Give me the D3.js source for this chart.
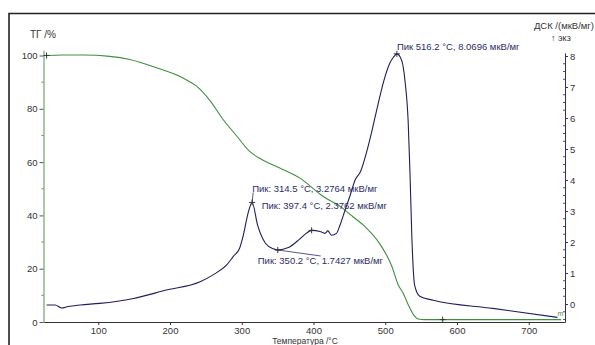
<!DOCTYPE html>
<html>
<head>
<meta charset="utf-8">
<script src="https://cdn.jsdelivr.net/npm/d3@7"></script>
<style>
  body { margin: 0; background: #fff; }
  svg { display: block; font-family: "Liberation Sans", Arial, sans-serif; }
</style>
</head>
<body>
<div id="chart"></div>
<script>
// TG curve (temperature, %)
const tgT = [28, 50, 80, 116, 144, 181, 218, 237, 256, 274, 293, 311, 328, 353, 381, 414, 439, 455, 471, 492, 509, 518, 525, 532, 540, 546, 555, 600, 700, 745];
const tgV = [100, 100.2, 100.2, 99.7, 98.5, 95.4, 91.6, 88.5, 83, 76, 69.8, 64, 61, 57.8, 54, 47, 43, 39.5, 36, 29.5, 21, 14, 10.8, 6.5, 2.5, 1.1, 0.9, 0.9, 0.9, 0.9];

// DSC curve (temperature, мкВ/мг)
const dscT = [28, 40, 49, 58, 75, 102, 149, 195, 242, 260, 279, 288, 297, 302, 309, 314.5, 322, 333, 344, 350.2, 365, 381, 391, 397.4, 409, 416, 420, 425, 432, 437, 444, 451, 458, 465, 479, 490, 498, 506, 511, 516.2, 523, 527.5, 532, 534.5, 537, 541, 548, 567, 650, 740];
const dscV = [-0.03, -0.03, -0.13, -0.08, -0.03, 0.02, 0.18, 0.45, 0.72, 0.94, 1.26, 1.53, 1.8, 2.2, 2.95, 3.2764, 2.55, 1.96, 1.78, 1.7427, 1.82, 2.1, 2.3, 2.3762, 2.34, 2.28, 2.36, 2.22, 2.28, 2.55, 3.03, 3.5, 4.0, 4.25, 5.35, 6.45, 7.2, 7.75, 7.95, 8.0696, 7.85, 7.2, 5.85, 4.2, 2.2, 0.6, 0.25, 0.12, -0.14, -0.43];

// peak annotations
const peakT = [516.2, 314.5, 397.4, 350.2];
const peakV = [8.0696, 3.2764, 2.3762, 1.7427];
const peakText = [
  "Пик 516.2 °С, 8.0696 мкВ/мг",
  "Пик: 314.5 °С, 3.2764 мкВ/мг",
  "Пик: 397.4 °С, 2.3762 мкВ/мг",
  "Пик: 350.2 °С, 1.7427 мкВ/мг"
];

const xTicks = [100, 200, 300, 400, 500, 600, 700];
const tgTicks = [0, 20, 40, 60, 80, 100];
const dscTicks = [0, 1, 2, 3, 4, 5, 6, 7, 8];

const W = 595, H = 345;
const green = "#3f8f3f", navy = "#1e1e5e", txt = "#333", ann = "#2c2c66";

const svg = d3.select("#chart").append("svg").attr("width", W).attr("height", H);

// frame
svg.append("path").attr("d", `M9,${H} L9,13.5 L${W},13.5`)
  .attr("fill", "none").attr("stroke", "#222").attr("stroke-width", 1.6);

const x = d3.scaleLinear().domain([23.7, 750.5]).range([43.5, 565]);
const yTG = d3.scaleLinear().domain([0, 102]).range([322, 50.2]);
const yDSC = d3.scaleLinear().domain([-0.58, 8.1]).range([322, 52.9]);

// bottom axis
const gx = svg.append("g").attr("transform", "translate(0,322)")
  .call(d3.axisBottom(x).tickValues(xTicks).tickSize(3).tickPadding(2).tickSizeOuter(0).tickFormat(d3.format("d")));
gx.select(".domain").attr("stroke", "#333");
gx.selectAll(".tick line").attr("stroke", "#333");
gx.selectAll("text").attr("fill", txt).attr("font-size", 9.5);

// left axis (TG)
const gl = svg.append("g").attr("transform", "translate(43.5,0)")
  .call(d3.axisLeft(yTG).tickValues(tgTicks).tickSize(4).tickSizeOuter(0));
gl.select(".domain").attr("stroke", "#6aa86a").attr("stroke-width", 1.2);
gl.selectAll(".tick line").attr("stroke", "#555");
gl.selectAll("text").attr("fill", txt).attr("font-size", 9.5).attr("x", -6);
svg.append("g").selectAll("line")
  .data(d3.range(10, 100, 20)).enter().append("line")
  .attr("x1", 41.5).attr("x2", 43.5)
  .attr("y1", d => yTG(d)).attr("y2", d => yTG(d))
  .attr("stroke", "#777");

// right axis (DSC)
const gr = svg.append("g").attr("transform", "translate(565,0)")
  .call(d3.axisRight(yDSC).tickValues(dscTicks).tickSize(3).tickSizeOuter(0));
gr.select(".domain").attr("stroke", "#303070");
gr.selectAll(".tick line").attr("stroke", "#303070");
gr.selectAll("text").attr("fill", txt).attr("font-size", 9.5).attr("x", 5);
svg.append("g").selectAll("line")
  .data(d3.range(-0.5, 8.01, 0.25).filter(d => Math.abs(d - Math.round(d)) > 0.01)).enter().append("line")
  .attr("x1", 563).attr("x2", 565)
  .attr("y1", d => yDSC(d)).attr("y2", d => yDSC(d))
  .attr("stroke", "#555");

// axis titles
svg.append("text").attr("x", 30).attr("y", 38).attr("font-size", 10).attr("fill", txt).text("ТГ /%");
svg.append("text").attr("x", 594).attr("y", 29).attr("font-size", 9.5).attr("fill", txt)
  .attr("text-anchor", "end").text("ДСК /(мкВ/мг)");
svg.append("text").attr("x", 551).attr("y", 41).attr("font-size", 9).attr("fill", txt).text("↑ экз");
svg.append("text").attr("x", 305).attr("y", 344).attr("font-size", 8.5).attr("fill", txt)
  .attr("text-anchor", "middle").text("Температура /°С");

// curves
const tgLine = d3.line().x(d => x(d[0])).y(d => yTG(d[1])).curve(d3.curveMonotoneX);
svg.append("path").datum(tgT.map((t, i) => [t, tgV[i]]))
  .attr("d", tgLine).attr("fill", "none").attr("stroke", green).attr("stroke-width", 1.1);

const dscLine = d3.line().x(d => x(d[0])).y(d => yDSC(d[1])).curve(d3.curveMonotoneX);
svg.append("path").datum(dscT.map((t, i) => [t, dscV[i]]))
  .attr("d", dscLine).attr("fill", "none").attr("stroke", navy).attr("stroke-width", 1.1);

// markers
function cross(cx, cy, col) {
  svg.append("path").attr("d", `M${cx - 3},${cy} H${cx + 3} M${cx},${cy - 3} V${cy + 3}`)
    .attr("stroke", col).attr("stroke-width", 1);
}
cross(x(28), yTG(100), "#333");
cross(x(580), yTG(0.9), "#333");
peakT.forEach((t, i) => cross(x(t), yDSC(peakV[i]), "#333"));

// annotations
const annPos = [[0, -4], [0, -10], [-50, -21], [-20, 14]];
peakT.forEach((t, i) => {
  svg.append("text")
    .attr("x", x(t) + annPos[i][0]).attr("y", yDSC(peakV[i]) + annPos[i][1])
    .attr("font-size", 9.5).attr("fill", ann).text(peakText[i]);
});
// leader lines
svg.append("line").attr("x1", x(314.5)).attr("y1", yDSC(3.2764))
  .attr("x2", x(314.5) + 1).attr("y2", yDSC(3.2764) - 10).attr("stroke", ann).attr("stroke-width", 0.8);
svg.append("line").attr("x1", x(350.2)).attr("y1", yDSC(1.7427))
  .attr("x2", x(350.2) + 43).attr("y2", yDSC(1.7427) + 6).attr("stroke", ann).attr("stroke-width", 0.8);

// end mark
svg.append("text").attr("x", x(740)).attr("y", yTG(0.9) - 4).attr("font-size", 7).attr("fill", green).text("m");
</script>
</body>
</html>
